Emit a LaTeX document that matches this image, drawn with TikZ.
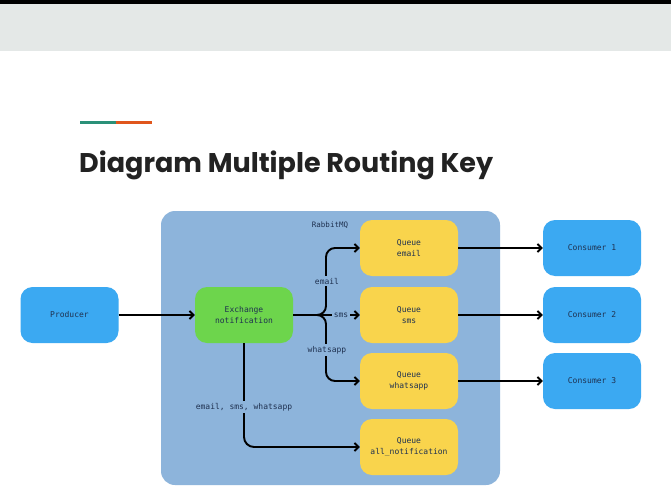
\documentclass[tikz,border=0pt]{standalone}
\usepackage{fontspec}
\usetikzlibrary{arrows.meta}
\newfontfamily\titlefont{Poppins}
\newfontfamily\monofont{DejaVu Sans Mono}
\definecolor{topbar}{HTML}{E4E8E7}
\definecolor{teal}{HTML}{2A9078}
\definecolor{accent}{HTML}{E0561C}
\definecolor{rmq}{HTML}{8DB4DB}
\definecolor{blueb}{HTML}{3BA9F2}
\definecolor{greenb}{HTML}{6DD54C}
\definecolor{yellowb}{HTML}{F9D44C}
\definecolor{navy}{HTML}{1F3150}
\definecolor{titlec}{HTML}{222222}
\tikzset{
  box/.style={rounded corners=12pt, minimum width=98pt, minimum height=56pt, align=center, text=navy, font=\monofont\fontsize{8}{11}\selectfont, inner sep=2pt},
  prod/.style={box, fill=blueb},
  exch/.style={box, fill=greenb},
  queue/.style={box, fill=yellowb},
  cons/.style={box, fill=blueb},
  arr/.style={draw=black, line width=1.9pt, -{Straight Barb[length=4pt,width=8pt]}},
  lbl/.style={fill=rmq, text=navy, font=\monofont\fontsize{8}{10}\selectfont, inner sep=2pt},
}
\begin{document}
\begin{tikzpicture}[x=1pt,y=-1pt]
\useasboundingbox (0,0) rectangle (671,503);
\fill[white] (0,0) rectangle (671,503);
\fill[black] (0,0) rectangle (671,4);
\fill[topbar] (0,4) rectangle (671,51);
% accent line
\fill[teal] (80,120.5) rectangle (116,124);
\fill[accent] (116,120.5) rectangle (152,124);
% title
\node[anchor=base west, inner sep=0pt, text=titlec] (title) at (79,172) {\resizebox{414pt}{!}{\titlefont\bfseries\fontsize{30}{36}\selectfont Diagram Multiple Routing Key}};
% container
\fill[rmq, rounded corners=14pt] (161,211) rectangle (500,485);
\node[text=navy, font=\monofont\fontsize{7.5}{9}\selectfont] (rmqlabel) at (330,225) {RabbitMQ};
% nodes
\node[prod] (prod) at (69.5,315) {Producer};
\node[exch] (ex) at (244,315) {Exchange\\notification};
\node[queue] (qe) at (409,248) {Queue\\email};
\node[queue] (qs) at (409,315) {Queue\\sms};
\node[queue] (qw) at (409,381) {Queue\\whatsapp};
\node[queue] (qa) at (409,447) {Queue\\all\_notification};
\node[cons] (c1) at (592,248) {Consumer 1};
\node[cons] (c2) at (592,315) {Consumer 2};
\node[cons] (c3) at (592,381) {Consumer 3};
% connectors
\draw[arr] (prod) -- (ex);
\draw[arr, rounded corners=9pt] (ex.east) -- (326,315) |- (qe.west);
\draw[arr, rounded corners=9pt] (ex.east) -- (326,315) |- (qw.west);
\draw[arr] (ex.east) -- (qs.west);
\draw[arr, rounded corners=10pt] (ex.south) |- (qa.west);
\draw[arr] (qe) -- (c1);
\draw[arr] (qs) -- (c2);
\draw[arr] (qw) -- (c3);
% labels
\node[lbl] (lemail) at (327,281) {email};
\node[lbl] (lsms) at (341,315) {sms};
\node[lbl] (lwa) at (327,350) {whatsapp};
\node[lbl] (lall) at (244,407) {email, sms, whatsapp};
\end{tikzpicture}
\end{document}
